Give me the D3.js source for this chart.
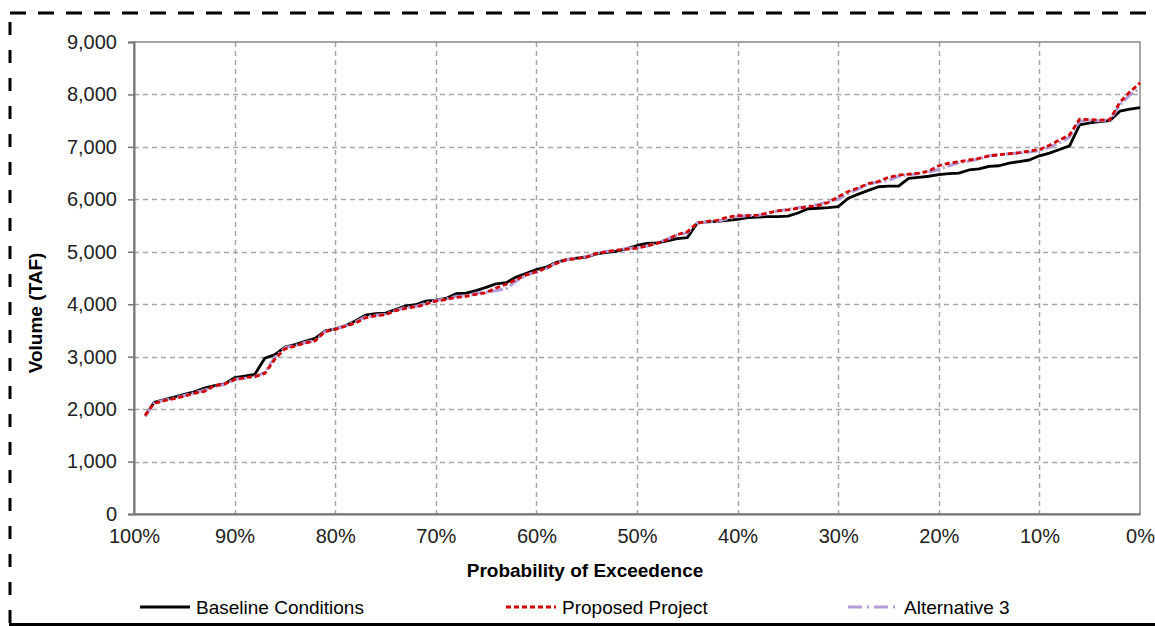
<!DOCTYPE html>
<html><head><meta charset="utf-8">
<script src="https://cdn.jsdelivr.net/npm/d3@7"></script>
<style>body{margin:0;background:#fff;}svg{display:block;font-family:"Liberation Sans",Arial,sans-serif;}</style>
</head><body>
<svg id="c" width="1155" height="626"></svg>
<script>
const prob = [98.9,98,97,96,95,94,93,92,91,90,89,88,87,86,85,84,83,82,81,80,79,78,77,76,75,74,73,72,71,70,69,68,67,66,65,64,63,62,61,60,59,58,57,56,55,54,53,52,51,50,49,48,47,46,45,44,43,42,41,40,39,38,37,36,35,34,33,32,31,30,29,28,27,26,25,24,23,22,21,20,19,18,17,16,15,14,13,12,11,10,9,8,7,6,5,4,3,2,1,0];
const baseline = [1870,2130,2180,2230,2280,2330,2400,2450,2480,2600,2630,2660,2970,3040,3180,3230,3290,3350,3490,3530,3590,3680,3790,3820,3830,3900,3970,3990,4060,4080,4110,4200,4210,4260,4320,4390,4410,4520,4590,4660,4710,4800,4850,4880,4900,4960,4990,5010,5060,5120,5160,5170,5210,5250,5270,5550,5570,5580,5600,5620,5650,5660,5670,5670,5680,5740,5820,5830,5840,5860,6020,6100,6170,6240,6250,6250,6400,6420,6440,6470,6490,6500,6560,6580,6630,6640,6690,6720,6750,6830,6880,6950,7020,7420,7460,7480,7500,7680,7720,7750];
const proposed = [1880,2110,2160,2200,2250,2300,2340,2450,2480,2560,2600,2620,2680,2950,3150,3200,3260,3300,3480,3520,3580,3640,3740,3780,3800,3880,3920,3950,4000,4060,4090,4130,4150,4190,4220,4310,4380,4470,4560,4620,4690,4780,4850,4870,4900,4970,5000,5030,5050,5070,5110,5160,5230,5330,5380,5550,5580,5600,5660,5690,5690,5700,5740,5780,5800,5830,5860,5880,5940,6050,6150,6220,6300,6340,6420,6460,6480,6500,6540,6640,6690,6720,6750,6780,6830,6850,6870,6890,6920,6950,7030,7130,7230,7530,7520,7510,7520,7850,8050,8220];
const alternative3 = [1860,2120,2170,2210,2260,2310,2360,2430,2470,2570,2590,2620,2700,2990,3170,3210,3270,3310,3480,3530,3590,3660,3760,3790,3810,3880,3940,3960,4020,4070,4100,4150,4160,4210,4230,4260,4300,4440,4560,4610,4680,4790,4850,4880,4910,4970,5010,5030,5060,5080,5110,5170,5240,5320,5360,5550,5570,5580,5630,5670,5690,5690,5730,5780,5810,5840,5870,5900,5960,6000,6110,6200,6290,6330,6360,6440,6470,6490,6520,6570,6640,6700,6730,6770,6830,6850,6870,6880,6900,6930,6990,7080,7190,7490,7500,7500,7510,7800,7990,8120];
const xTicks = [100,90,80,70,60,50,40,30,20,10,0];
const yTicks = [0,1000,2000,3000,4000,5000,6000,7000,8000,9000];
const seriesNames = ["Baseline Conditions","Proposed Project","Alternative 3"];

const svg = d3.select("#c");
const L=134, R=1140, T=42, B=514;
const x = d3.scaleLinear().domain([100,0]).range([L,R]);
const y = d3.scaleLinear().domain([0,9000]).range([B,T]);

// outer frame
svg.append("line").attr("x1",10).attr("x2",1155).attr("y1",13).attr("y2",13)
  .attr("stroke","#000").attr("stroke-width",3).attr("stroke-dasharray","16,12");
svg.append("line").attr("x1",10).attr("x2",10).attr("y1",22).attr("y2",626)
  .attr("stroke","#000").attr("stroke-width",3).attr("stroke-dasharray","13,15");
svg.append("line").attr("x1",9).attr("x2",1155).attr("y1",624.5).attr("y2",624.5)
  .attr("stroke","#000").attr("stroke-width",3);

// grid
const g = svg.append("g");
g.selectAll(".gy").data(yTicks.filter(d=>d>0 && d<9000)).enter().append("line")
  .attr("x1",L).attr("x2",R).attr("y1",d=>Math.round(y(d))+0.5).attr("y2",d=>Math.round(y(d))+0.5)
  .attr("stroke","#a6a6a6").attr("stroke-width",1.5).attr("stroke-dasharray","5,4");
g.selectAll(".gx").data(xTicks.filter(d=>d>0 && d<100)).enter().append("line")
  .attr("y1",T).attr("y2",B).attr("x1",d=>Math.round(x(d))+0.5).attr("x2",d=>Math.round(x(d))+0.5)
  .attr("stroke","#a6a6a6").attr("stroke-width",1.5).attr("stroke-dasharray","5,4");

// plot border
svg.append("rect").attr("x",L).attr("y",T).attr("width",R-L).attr("height",B-T)
  .attr("fill","none").attr("stroke","#888").attr("stroke-width",1.5);

// axes
const ya = d3.axisLeft(y).tickValues(yTicks).tickFormat(d3.format(",")).tickSize(6).tickPadding(11);
const yg = svg.append("g").attr("transform",`translate(${L},0)`).call(ya);
yg.select(".domain").attr("stroke","#777").attr("stroke-width",2);
yg.selectAll(".tick line").attr("stroke","#777").attr("stroke-width",1.5);
yg.selectAll("text").attr("font-size",20).attr("fill","#222").attr("font-family","Liberation Sans, Arial, sans-serif");

const xa = d3.axisBottom(x).tickValues(xTicks).tickFormat(d=>d+"%").tickSize(0).tickPadding(15);
const xg = svg.append("g").attr("transform",`translate(0,${B})`).call(xa);
xg.select(".domain").attr("stroke","#777").attr("stroke-width",2);
xg.selectAll("text").attr("font-size",20).attr("fill","#222").attr("font-family","Liberation Sans, Arial, sans-serif");

// axis titles
svg.append("text").attr("x",585).attr("y",577).attr("text-anchor","middle")
  .attr("font-weight","bold").attr("font-size",19).text("Probability of Exceedence");
svg.append("text").attr("transform","translate(42,313) rotate(-90)").attr("text-anchor","middle")
  .attr("font-weight","bold").attr("font-size",19).text("Volume (TAF)");

// lines
const line = d3.line().x((d,i)=>x(prob[i])).y(d=>y(d));
const styles = [
  {data:baseline, color:"#000", w:2.8, dash:null},
  {data:proposed, color:"#d00000", w:2.8, dash:"5,3"},
  {data:alternative3, color:"#b49bd8", w:3, dash:"12,3,2,3"}
];
[styles[0],styles[2],styles[1]].forEach(s=>{
  svg.append("path").attr("d",line(s.data)).attr("fill","none")
    .attr("stroke",s.color).attr("stroke-width",s.w).attr("stroke-linejoin","round")
    .attr("stroke-dasharray",s.dash);
});

// legend
const legX = [140,506,848];
const lg = svg.append("g");
seriesNames.forEach((n,i)=>{
  const s = styles[i];
  lg.append("line").attr("x1",legX[i]).attr("x2",legX[i]+50).attr("y1",607).attr("y2",607)
    .attr("stroke",s.color).attr("stroke-width",3).attr("stroke-dasharray",i==2?"14,5,2,5":s.dash);
  lg.append("text").attr("x",legX[i]+56).attr("y",614).attr("font-size",19).text(n);
});
</script>
</body></html>
